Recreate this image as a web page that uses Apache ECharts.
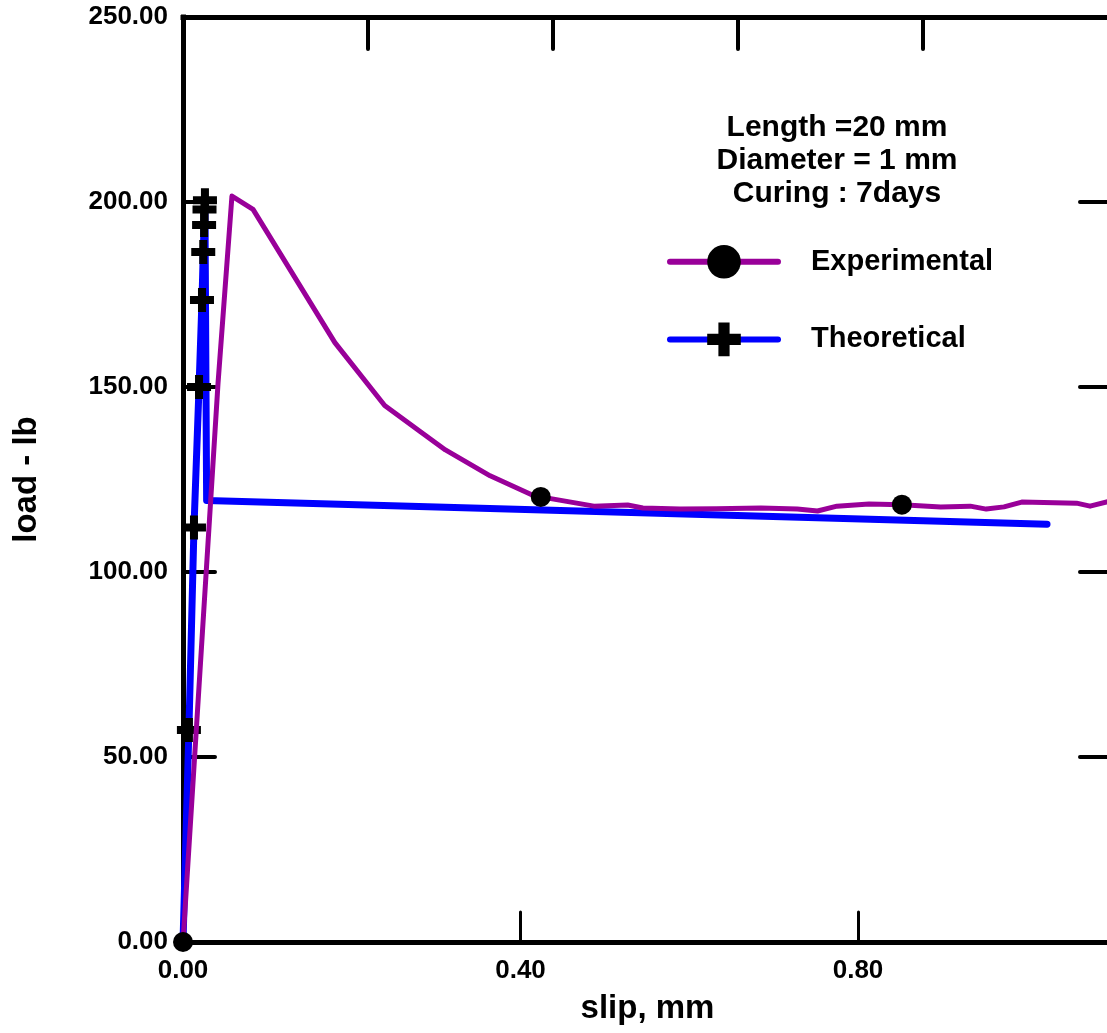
<!DOCTYPE html>
<html><head><meta charset="utf-8">
<script src="https://cdn.jsdelivr.net/npm/echarts@6/dist/echarts.min.js"></script>
<style>html,body{margin:0;padding:0;background:#fff;overflow:hidden}#c{width:1107px;height:1033px}</style>
</head><body><div id="c"></div>
<script>
// ---- data ----
const expSlip = [0, 0.0415, 0.058, 0.083, 0.180, 0.239, 0.281, 0.311, 0.364, 0.412, 0.424, 0.487, 0.527, 0.545, 0.589, 0.632, 0.685, 0.728, 0.752, 0.775, 0.813, 0.852, 0.898, 0.933, 0.952, 0.973, 0.994, 1.059, 1.075, 1.096];
const expLoad = [0, 151, 201.6, 198, 162, 145, 138, 133, 126, 121, 120.3, 117.8, 118.1, 117.3, 117.0, 117.1, 117.3, 117.0, 116.5, 117.8, 118.4, 118.2, 117.6, 117.8, 117.0, 117.6, 118.9, 118.6, 117.8, 119];
const expMarked = [0, 10, 21];
const theoSlip = [0, 0.007, 0.013, 0.019, 0.0225, 0.024, 0.025, 0.0255, 0.026, 0.028, 1.024];
const theoLoad = [0, 57.3, 112, 150, 173.5, 186.5, 193.8, 198, 200.5, 119.3, 112.9];
const theoMarked = [1, 2, 3, 4, 5, 6, 7, 8];
const xTickLabels = ['0.00', '0.40', '0.80'];
const yTickLabels = ['0.00', '50.00', '100.00', '150.00', '200.00', '250.00'];
const noteLines = ['Length =20 mm', 'Diameter = 1 mm', 'Curing : 7days'];
const seriesNames = ['Experimental', 'Theoretical'];
const xTitle = 'slip, mm';
const yTitle = 'load - lb';

const FONT = '"Liberation Sans", Arial, sans-serif';
const PLUS = 'path://M8,0H16V8H24V16H16V24H8V16H0V8H8Z';

function pts(xs, ys, marked) {
  return xs.map((x, i) => marked.includes(i) ? { value: [x, ys[i]] } : { value: [x, ys[i]], symbol: 'none' });
}

const tickStyle = { color: '#000', width: 4, cap: 'round' };
const lineAxis = { onZero: false, lineStyle: { color: '#000', width: 5, cap: 'square' } };
const labelStyle = { color: '#000', fontFamily: FONT, fontWeight: 'bold', fontSize: 26 };
const nameStyle = { color: '#000', fontFamily: FONT, fontWeight: 'bold', fontSize: 33 };

const chart = echarts.init(document.getElementById('c'), null, { renderer: 'canvas' });
chart.setOption({
  animation: false,
  backgroundColor: '#fff',
  title: {
    text: noteLines.join('\n'),
    left: 832, top: 106, textAlign: 'center',
    textStyle: { color: '#000', fontFamily: FONT, fontWeight: 'bold', fontSize: 30, lineHeight: 33 }
  },
  legend: {
    data: seriesNames,
    orient: 'vertical', left: 662, top: 240,
    itemWidth: 108, itemHeight: 42, itemGap: 44,
    selectedMode: false,
    lineStyle: { width: 6 },
    textStyle: { color: '#000', fontFamily: FONT, fontWeight: 'bold', fontSize: 29, padding: [0, 0, 0, 28] }
  },
  grid: { left: 183, top: 17, width: 929, height: 925, containLabel: false, outerBoundsMode: 'none' },
  xAxis: [{
    type: 'value', position: 'bottom', min: 0, max: 1.101, interval: 0.4,
    axisLine: lineAxis,
    axisTick: { inside: true, length: 30, lineStyle: { color: '#000', width: 3, cap: 'round' } },
    axisLabel: Object.assign({ margin: 16, showMaxLabel: false, formatter: v => xTickLabels[Math.round(v / 0.4)] || '' }, labelStyle),
    splitLine: { show: false },
    name: xTitle, nameLocation: 'middle', nameGap: 50, nameTextStyle: nameStyle
  }, {
    type: 'value', position: 'top', min: 0, max: 5.02, interval: 1,
    axisLine: lineAxis,
    axisTick: { inside: true, length: 32, lineStyle: tickStyle },
    axisLabel: { show: false }, splitLine: { show: false }
  }],
  yAxis: [{
    type: 'value', position: 'left', min: 0, max: 250, interval: 50,
    axisLine: lineAxis,
    axisTick: { inside: true, length: 32, lineStyle: tickStyle },
    axisLabel: Object.assign({ margin: 15, formatter: v => yTickLabels[Math.round(v / 50)] }, labelStyle),
    splitLine: { show: false },
    name: yTitle, nameLocation: 'middle', nameGap: 140, nameRotate: 90, nameTextStyle: nameStyle
  }, {
    type: 'value', position: 'right', min: 0, max: 250, interval: 50,
    axisLine: lineAxis,
    axisTick: { inside: true, length: 32, lineStyle: tickStyle },
    axisLabel: { show: false }, splitLine: { show: false }
  }],
  series: [{
    name: 'Theoretical', type: 'line', xAxisIndex: 0, yAxisIndex: 0, z: 2,
    data: pts(theoSlip, theoLoad, theoMarked),
    symbol: PLUS, symbolSize: 24, showSymbol: true,
    itemStyle: { color: '#000' },
    lineStyle: { color: '#0000ff', width: 7, cap: 'round', join: 'round' }
  }, {
    name: 'Experimental', type: 'line', xAxisIndex: 0, yAxisIndex: 0, z: 3,
    data: pts(expSlip, expLoad, expMarked),
    symbol: 'circle', symbolSize: 20, showSymbol: true,
    itemStyle: { color: '#000' },
    lineStyle: { color: '#990099', width: 5, cap: 'round', join: 'round' }
  }]
});
</script></body></html>
